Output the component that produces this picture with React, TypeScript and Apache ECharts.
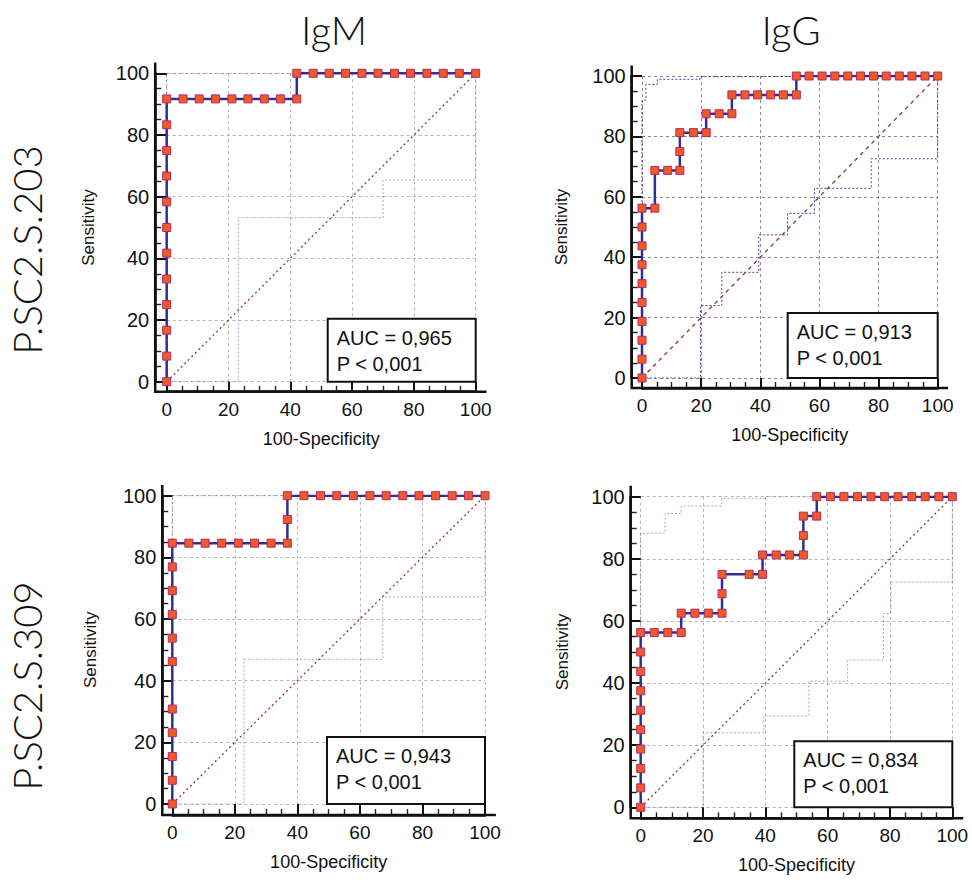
import React, { useEffect, useRef } from "react";
import * as echarts from "echarts";

// ---------- text ----------
const columnTitles = ["IgM", "IgG"];
const rowLabels = ["P.SC2.S.203", "P.SC2.S.309"];
const aucLabels = ["AUC = 0,965", "AUC = 0,913", "AUC = 0,943", "AUC = 0,834"];
const pLabels = ["P < 0,001", "P < 0,001", "P < 0,001", "P < 0,001"];
const xAxisName = "100-Specificity";
const yAxisName = "Sensitivity";

// ---------- data (100-Specificity, Sensitivity) ----------
// Panel 1: IgM, P.SC2.S.203
const igm203Fpr = [0, 0, 0, 0, 0, 0, 0, 0, 0, 0, 0, 0, 5.3, 10.5, 15.8, 21.1, 26.3, 31.6, 36.8, 42.1, 42.1, 47.4, 52.6, 57.9, 63.2, 68.4, 73.7, 78.9, 84.2, 89.5, 94.7, 100];
const igm203Tpr = [0, 8.3, 16.7, 25, 33.3, 41.7, 50, 58.3, 66.7, 75, 83.3, 91.7, 91.7, 91.7, 91.7, 91.7, 91.7, 91.7, 91.7, 91.7, 100, 100, 100, 100, 100, 100, 100, 100, 100, 100, 100, 100];
const igm203UpperX = [0, 0, 100];
const igm203UpperY = [0, 100, 100];
const igm203LowerX = [0, 23.2, 23.2, 70, 70, 100, 100];
const igm203LowerY = [0, 0, 53.2, 53.2, 65.4, 65.4, 100];

// Panel 2: IgG, P.SC2.S.203
const igg203Fpr = [0, 0, 0, 0, 0, 0, 0, 0, 0, 0, 4.35, 4.35, 8.7, 12.8, 12.8, 12.8, 17.4, 21.7, 21.7, 26.1, 30.4, 30.4, 34.8, 39.1, 43.5, 47.8, 52.2, 52.2, 56.5, 60.9, 65.2, 69.6, 73.9, 78.3, 82.6, 87, 91.3, 95.7, 100];
const igg203Tpr = [0, 6.25, 12.5, 18.75, 25, 31.25, 37.5, 43.75, 50, 56.25, 56.25, 68.75, 68.75, 68.75, 75, 81.25, 81.25, 81.25, 87.5, 87.5, 87.5, 93.75, 93.75, 93.75, 93.75, 93.75, 93.75, 100, 100, 100, 100, 100, 100, 100, 100, 100, 100, 100, 100];
const igg203UpperX = [0, 0, 1.3, 1.3, 5.2, 5.2, 19.6, 19.6, 40, 40, 100];
const igg203UpperY = [0, 92, 92, 97.2, 97.2, 98.9, 98.9, 99.8, 99.8, 100, 100];
const igg203LowerX = [0, 19.8, 19.8, 27, 27, 39.5, 39.5, 49.2, 49.2, 58.3, 58.3, 77.5, 77.5, 100, 100];
const igg203LowerY = [0, 0, 24, 24, 35, 35, 47.4, 47.4, 54.5, 54.5, 62.8, 62.8, 72.6, 72.6, 100];

// Panel 3: IgM, P.SC2.S.309
const igm309Fpr = [0, 0, 0, 0, 0, 0, 0, 0, 0, 0, 0, 5.3, 10.5, 15.8, 21.1, 26.3, 31.6, 36.8, 36.8, 36.8, 42.1, 47.4, 52.6, 57.9, 63.2, 68.4, 73.7, 78.9, 84.2, 89.5, 94.7, 100];
const igm309Tpr = [0, 7.7, 15.4, 23.1, 30.8, 46.2, 53.8, 61.5, 69.2, 76.9, 84.6, 84.6, 84.6, 84.6, 84.6, 84.6, 84.6, 84.6, 92.3, 100, 100, 100, 100, 100, 100, 100, 100, 100, 100, 100, 100, 100];
const igm309UpperX = [0, 0, 100];
const igm309UpperY = [0, 100, 100];
const igm309LowerX = [0, 22.9, 22.9, 67.3, 67.3, 100, 100];
const igm309LowerY = [0, 0, 46.9, 46.9, 67.2, 67.2, 100];

// Panel 4: IgG, P.SC2.S.309
const igg309Fpr = [0, 0, 0, 0, 0, 0, 0, 0, 0, 0, 4.35, 8.7, 13, 13, 17.4, 21.7, 26.1, 26.1, 26.1, 34.8, 39.1, 39.1, 43.5, 47.8, 52.2, 52.2, 52.2, 56.5, 56.5, 60.9, 65.2, 69.6, 73.9, 78.3, 82.6, 87, 91.3, 95.7, 100];
const igg309Tpr = [0, 6.25, 12.5, 18.75, 25, 31.25, 37.5, 43.75, 50, 56.25, 56.25, 56.25, 56.25, 62.5, 62.5, 62.5, 62.5, 68.75, 75, 75, 75, 81.25, 81.25, 81.25, 81.25, 87.5, 93.75, 93.75, 100, 100, 100, 100, 100, 100, 100, 100, 100, 100, 100];
const igg309UpperX = [0, 0, 7.8, 7.8, 13, 13, 26, 26, 40.4, 40.4, 100];
const igg309UpperY = [0, 88.2, 88.2, 94.6, 94.6, 97, 97, 99.5, 99.5, 100, 100];
const igg309LowerX = [0, 20, 20, 39.5, 39.5, 54, 54, 66.4, 66.4, 77.9, 77.9, 80.3, 80.3, 100, 100];
const igg309LowerY = [0, 0, 24, 24, 29.4, 29.4, 40.6, 40.6, 47.4, 47.4, 62.4, 62.4, 72.5, 72.5, 100];

const diagonalX = [0, 100];
const diagonalY = [0, 100];

const curvesFpr = [igm203Fpr, igg203Fpr, igm309Fpr, igg309Fpr];
const curvesTpr = [igm203Tpr, igg203Tpr, igm309Tpr, igg309Tpr];
const upperX = [igm203UpperX, igg203UpperX, igm309UpperX, igg309UpperX];
const upperY = [igm203UpperY, igg203UpperY, igm309UpperY, igg309UpperY];
const lowerX = [igm203LowerX, igg203LowerX, igm309LowerX, igg309LowerX];
const lowerY = [igm203LowerY, igg203LowerY, igm309LowerY, igg309LowerY];

// ---------- layout ----------
const panels = [
  { left: 166.7, top: 73.3, width: 309, height: 308.4, offY: 11.5, offX: 10, nameGapY: 58, bw: 148, bh: 63, bandOpacity: 0.45, gridColor: "#b5b5b5", diagDash: [2, 3] },
  { left: 642, top: 76, width: 295.7, height: 302, offY: 10.3, offX: 10, nameGapY: 62, bw: 150, bh: 65, bandOpacity: 0.95, gridColor: "#8a8a8a", diagDash: [4, 4] },
  { left: 172.3, top: 495.7, width: 312.7, height: 308.3, offY: 10, offX: 11, nameGapY: 63, bw: 158, bh: 67, bandOpacity: 0.45, gridColor: "#b5b5b5", diagDash: [2, 3] },
  { left: 640.7, top: 496.7, width: 311.6, height: 310.6, offY: 10, offX: 11, nameGapY: 60, bw: 158, bh: 66, bandOpacity: 0.45, gridColor: "#b5b5b5", diagDash: [2, 3] },
];

const axisFont = "'Liberation Sans', Arial, sans-serif";
const titleFont = "Lato, 'Open Sans', sans-serif";

function zip(xs: number[], ys: number[]) {
  return xs.map((x, i) => [x, ys[i]]);
}

export default function App() {
  const ref = useRef<HTMLDivElement>(null);

  useEffect(() => {
    if (!ref.current) return;
    const chart = echarts.init(ref.current, undefined, { renderer: "svg" });

    const grid = panels.map((p) => ({ left: p.left, top: p.top, width: p.width, height: p.height }));

    const xAxis = panels.map((p, i) => ({
      gridIndex: i,
      type: "value",
      position: "bottom",
      min: 0,
      max: 100,
      interval: 20,
      offset: p.offX,
      axisLine: { show: true, onZero: false, lineStyle: { color: "#111", width: 2.5 } },
      axisTick: { show: true, inside: true, length: p.offX, lineStyle: { color: "#111", width: 2 } },
      minorTick: { show: true, splitNumber: 4, length: 6, lineStyle: { color: "#222", width: 1.4 } },
      axisLabel: { fontSize: 19, color: "#111", margin: 8, fontFamily: axisFont },
      splitLine: { show: true, lineStyle: { color: p.gridColor, type: [3, 3], width: 1 } },
      name: xAxisName,
      nameLocation: "middle",
      nameGap: 38,
      nameTextStyle: { fontSize: 18, color: "#111", fontFamily: axisFont },
    }));

    const yAxis = panels.map((p, i) => ({
      gridIndex: i,
      type: "value",
      position: "left",
      min: 0,
      max: 100,
      interval: 20,
      offset: p.offY,
      axisLine: { show: true, onZero: false, lineStyle: { color: "#111", width: 2.5 } },
      axisTick: { show: true, inside: true, length: p.offY, lineStyle: { color: "#111", width: 2 } },
      minorTick: { show: true, splitNumber: 4, length: 6, lineStyle: { color: "#222", width: 1.4 } },
      axisLabel: { fontSize: 20, color: "#111", margin: 6, fontFamily: axisFont },
      splitLine: { show: true, lineStyle: { color: p.gridColor, type: [3, 3], width: 1 } },
      name: yAxisName,
      nameLocation: "middle",
      nameGap: p.nameGapY,
      nameTextStyle: { fontSize: 17, color: "#111", fontFamily: axisFont },
    }));

    const series: any[] = [];
    panels.forEach((p, i) => {
      series.push({
        type: "line",
        xAxisIndex: i,
        yAxisIndex: i,
        data: zip(upperX[i], upperY[i]),
        symbol: "none",
        silent: true,
        z: 1,
        lineStyle: { color: "#3535b0", width: 1, type: [2, 2], opacity: p.bandOpacity },
      });
      series.push({
        type: "line",
        xAxisIndex: i,
        yAxisIndex: i,
        data: zip(lowerX[i], lowerY[i]),
        symbol: "none",
        silent: true,
        z: 1,
        lineStyle: { color: "#3535b0", width: 1, type: [2, 2], opacity: p.bandOpacity },
      });
      series.push({
        type: "line",
        xAxisIndex: i,
        yAxisIndex: i,
        data: zip(diagonalX, diagonalY),
        symbol: "none",
        silent: true,
        z: 2,
        lineStyle: { color: "#9c3030", width: 1.3, type: p.diagDash },
      });
      series.push({
        type: "line",
        xAxisIndex: i,
        yAxisIndex: i,
        data: zip(curvesFpr[i], curvesTpr[i]),
        symbol: "rect",
        symbolSize: 8,
        z: 5,
        lineStyle: { color: "#2e3192", width: 2.5 },
        itemStyle: { color: "#f15a24", borderColor: "#b02a6a", borderWidth: 1 },
      });
    });

    const graphic: any[] = [];
    // axis frames (L-shaped axis lines, extending the axes slightly past 0 and 100)
    panels.forEach((p) => {
      const axX = p.left - p.offY;
      const axY = p.top + p.height + p.offX;
      graphic.push({
        type: "polyline",
        z: 50,
        silent: true,
        shape: {
          points: [
            [axX, p.top - 0.035 * p.height],
            [axX, axY],
            [p.left + p.width * 1.035, axY],
          ],
        },
        style: { stroke: "#111", lineWidth: 2.5, fill: null },
      });
      // AUC box
      const bx = p.left + p.width - p.bw;
      const by = p.top + p.height - p.bh;
      graphic.push({
        type: "rect",
        z: 60,
        silent: true,
        shape: { x: bx, y: by, width: p.bw, height: p.bh },
        style: { fill: "#fff", stroke: "#111", lineWidth: 2 },
      });
    });
    panels.forEach((p, i) => {
      const bx = p.left + p.width - p.bw;
      const by = p.top + p.height - p.bh;
      graphic.push({
        type: "text",
        z: 61,
        silent: true,
        x: bx + 9,
        y: by + 19,
        style: { text: aucLabels[i], fontSize: 20, fontFamily: axisFont, fill: "#111", align: "left", verticalAlign: "middle" },
      });
      graphic.push({
        type: "text",
        z: 61,
        silent: true,
        x: bx + 9,
        y: by + 45,
        style: { text: pLabels[i], fontSize: 20, fontFamily: axisFont, fill: "#111", align: "left", verticalAlign: "middle" },
      });
    });
    // column titles
    const titleX = [334, 791];
    columnTitles.forEach((t, i) => {
      graphic.push({
        type: "text",
        x: titleX[i],
        y: 30,
        style: { text: t, fontSize: 40, fontFamily: titleFont, fontWeight: 300, fill: "#111", align: "center", verticalAlign: "middle" },
      });
    });
    // row labels
    const rowY = [250, 686];
    rowLabels.forEach((t, i) => {
      graphic.push({
        type: "text",
        x: 27,
        y: rowY[i],
        rotation: Math.PI / 2,
        style: { text: t, fontSize: 40, fontFamily: titleFont, fontWeight: 300, fill: "#111", align: "center", verticalAlign: "middle" },
      });
    });

    chart.setOption({
      animation: false,
      backgroundColor: "#ffffff",
      grid,
      xAxis,
      yAxis,
      series,
      graphic,
    });

    return () => chart.dispose();
  }, []);

  return <div ref={ref} style={{ position: "absolute", left: 0, top: 0, width: 972, height: 884 }} />;
}
